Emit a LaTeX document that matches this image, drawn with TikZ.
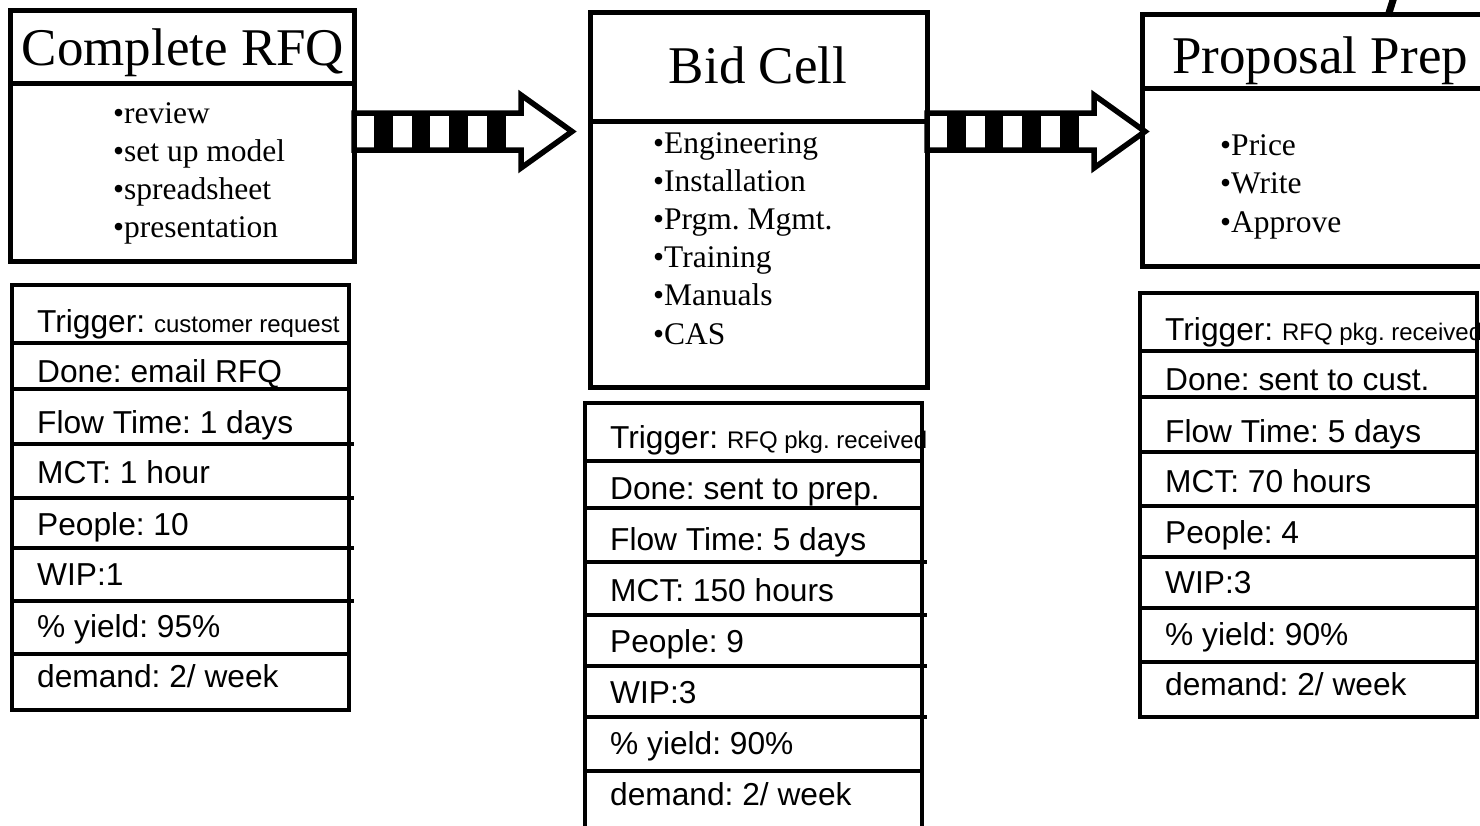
\documentclass[tikz,border=0pt]{standalone}
\usepackage{fontspec}
\setmainfont{Liberation Serif}
\newfontfamily\tablefont{Liberation Sans}
\newcommand\triggertext[1]{{\fontsize{24}{24}\selectfont #1}}
\frenchspacing

\tikzset{
  % striped block arrow: shaft with four black bands, open white head
  pics/stripearrow/.style={code={
    \filldraw[fill=white, line width=5.5pt, miter limit=10]
      (0,-18.5) -- (167,-18.5) -- (167,-36.5) -- (218,0)
      -- (167,36.5) -- (167,18.5) -- (0,18.5) -- cycle;
    \foreach \k in {0,...,3}
      \fill ({20+37.7*\k},-18.5) rectangle ++(18.5,37);
  }}
}

\begin{document}
\begin{tikzpicture}[x=1pt, y=-1pt,
  boxframe/.style={draw, line width=5pt, rectangle, inner sep=0pt, outer sep=0pt, anchor=north west},
  tableframe/.style={draw, line width=4pt, rectangle, inner sep=0pt, outer sep=0pt, anchor=north west},
  divider/.style={line width=5pt},
  rowline/.style={line width=4pt},
  title/.style={anchor=base, inner sep=0pt, font=\fontsize{53}{53}\selectfont},
  item/.style={anchor=base west, inner sep=0pt, font=\fontsize{31.5}{31.5}\selectfont},
  cell/.style={anchor=base west, inner sep=0pt, font=\tablefont\fontsize{31.7}{31.7}\selectfont}
]
\clip (0,0) rectangle (1480,825);
\fill[white] (0,0) rectangle (1480,825);

% ---------- process boxes ----------
\node[boxframe, minimum width=344pt, minimum height=251pt] (rfq) at (10,10) {};
\draw[divider] (rfq.west |- 0,83.5) -- (rfq.east |- 0,83.5);
\node[title] (rfq-title) at (183,65) {Complete RFQ};
\foreach \t [count=\i] in {review, set up model, spreadsheet, presentation}
  \node[item] (rfq-\i) at (113,{123+38.3*(\i-1)}) {\textbullet\t};

\node[boxframe, minimum width=337pt, minimum height=375pt] (bid) at (590,12) {};
\draw[divider] (bid.west |- 0,121) -- (bid.east |- 0,121);
\node[title] (bid-title) at (758,83) {Bid Cell};
\foreach \t [count=\i] in {Engineering, Installation, Prgm. Mgmt., Training, Manuals, CAS}
  \node[item] (bid-\i) at (653,{153+38.2*(\i-1)}) {\textbullet\t};

\node[boxframe, minimum width=400pt, minimum height=252pt] (prep) at (1142,14) {};
\draw[divider] (prep.west |- 0,88) -- (prep.east |- 0,88);
\node[title, anchor=base west] (prep-title) at (1172,73) {Proposal Prep};
\foreach \t [count=\i] in {Price, Write, Approve}
  \node[item] (prep-\i) at (1220,{155+38.5*(\i-1)}) {\textbullet\t};
\draw[line width=7pt] (1388,16) -- (1394,-3);

% ---------- flow arrows ----------
\coordinate (arrowrow) at (0,131.5);
\pic at (rfq.east |- arrowrow) {stripearrow};
\pic at (bid.east |- arrowrow) {stripearrow};

% ---------- metric tables ----------
% Complete RFQ
\node[tableframe, minimum width=337pt, minimum height=425pt] (t1) at (12,285) {};
\foreach \y in {343,389,654} \draw[rowline] (12,\y) -- (349,\y);
\foreach \y in {444,498,548,601} \draw[rowline] (13,\y) -- (354,\y);
\node[cell] (t1-1) at (37,332) {Trigger: \triggertext{customer request}};
\foreach \t/\y [count=\i from 2] in {{Done: email RFQ}/382, {Flow Time: 1 days}/433, {MCT: 1 hour}/483,
    {People: 10}/535, {WIP:1}/585, {\% yield: 95\%}/637, {demand: 2/ week}/687}
  \node[cell] (t1-\i) at (37,\y) {\t};

% Bid Cell
\node[tableframe, minimum width=337pt, minimum height=440pt] (t2) at (585,403) {};
\foreach \y in {461,508,771} \draw[rowline] (585,\y) -- (924,\y);
\foreach \y in {562,615,666,717} \draw[rowline] (587,\y) -- (927,\y);
\node[cell] (t2-1) at (610,448) {Trigger: \triggertext{RFQ pkg. received}};
\foreach \t/\y [count=\i from 2] in {{Done: sent to prep.}/499, {Flow Time: 5 days}/550, {MCT: 150 hours}/601,
    {People: 9}/652, {WIP:3}/703, {\% yield: 90\%}/754, {demand: 2/ week}/805}
  \node[cell] (t2-\i) at (610,\y) {\t};

% Proposal Prep
\node[cell] (t3-1) at (1165,340) {Trigger: \triggertext{RFQ pkg. received}};
\node[tableframe, minimum width=337pt, minimum height=424pt] (t3) at (1140,293) {};
\foreach \y in {351,397,452,506,557,608,662} \draw[rowline] (1140,\y) -- (1477,\y);
\foreach \t/\y [count=\i from 2] in {{Done: sent to cust.}/390, {Flow Time: 5 days}/442, {MCT: 70 hours}/492,
    {People: 4}/543, {WIP:3}/593, {\% yield: 90\%}/645, {demand: 2/ week}/695}
  \node[cell] (t3-\i) at (1165,\y) {\t};
\end{tikzpicture}
\end{document}
